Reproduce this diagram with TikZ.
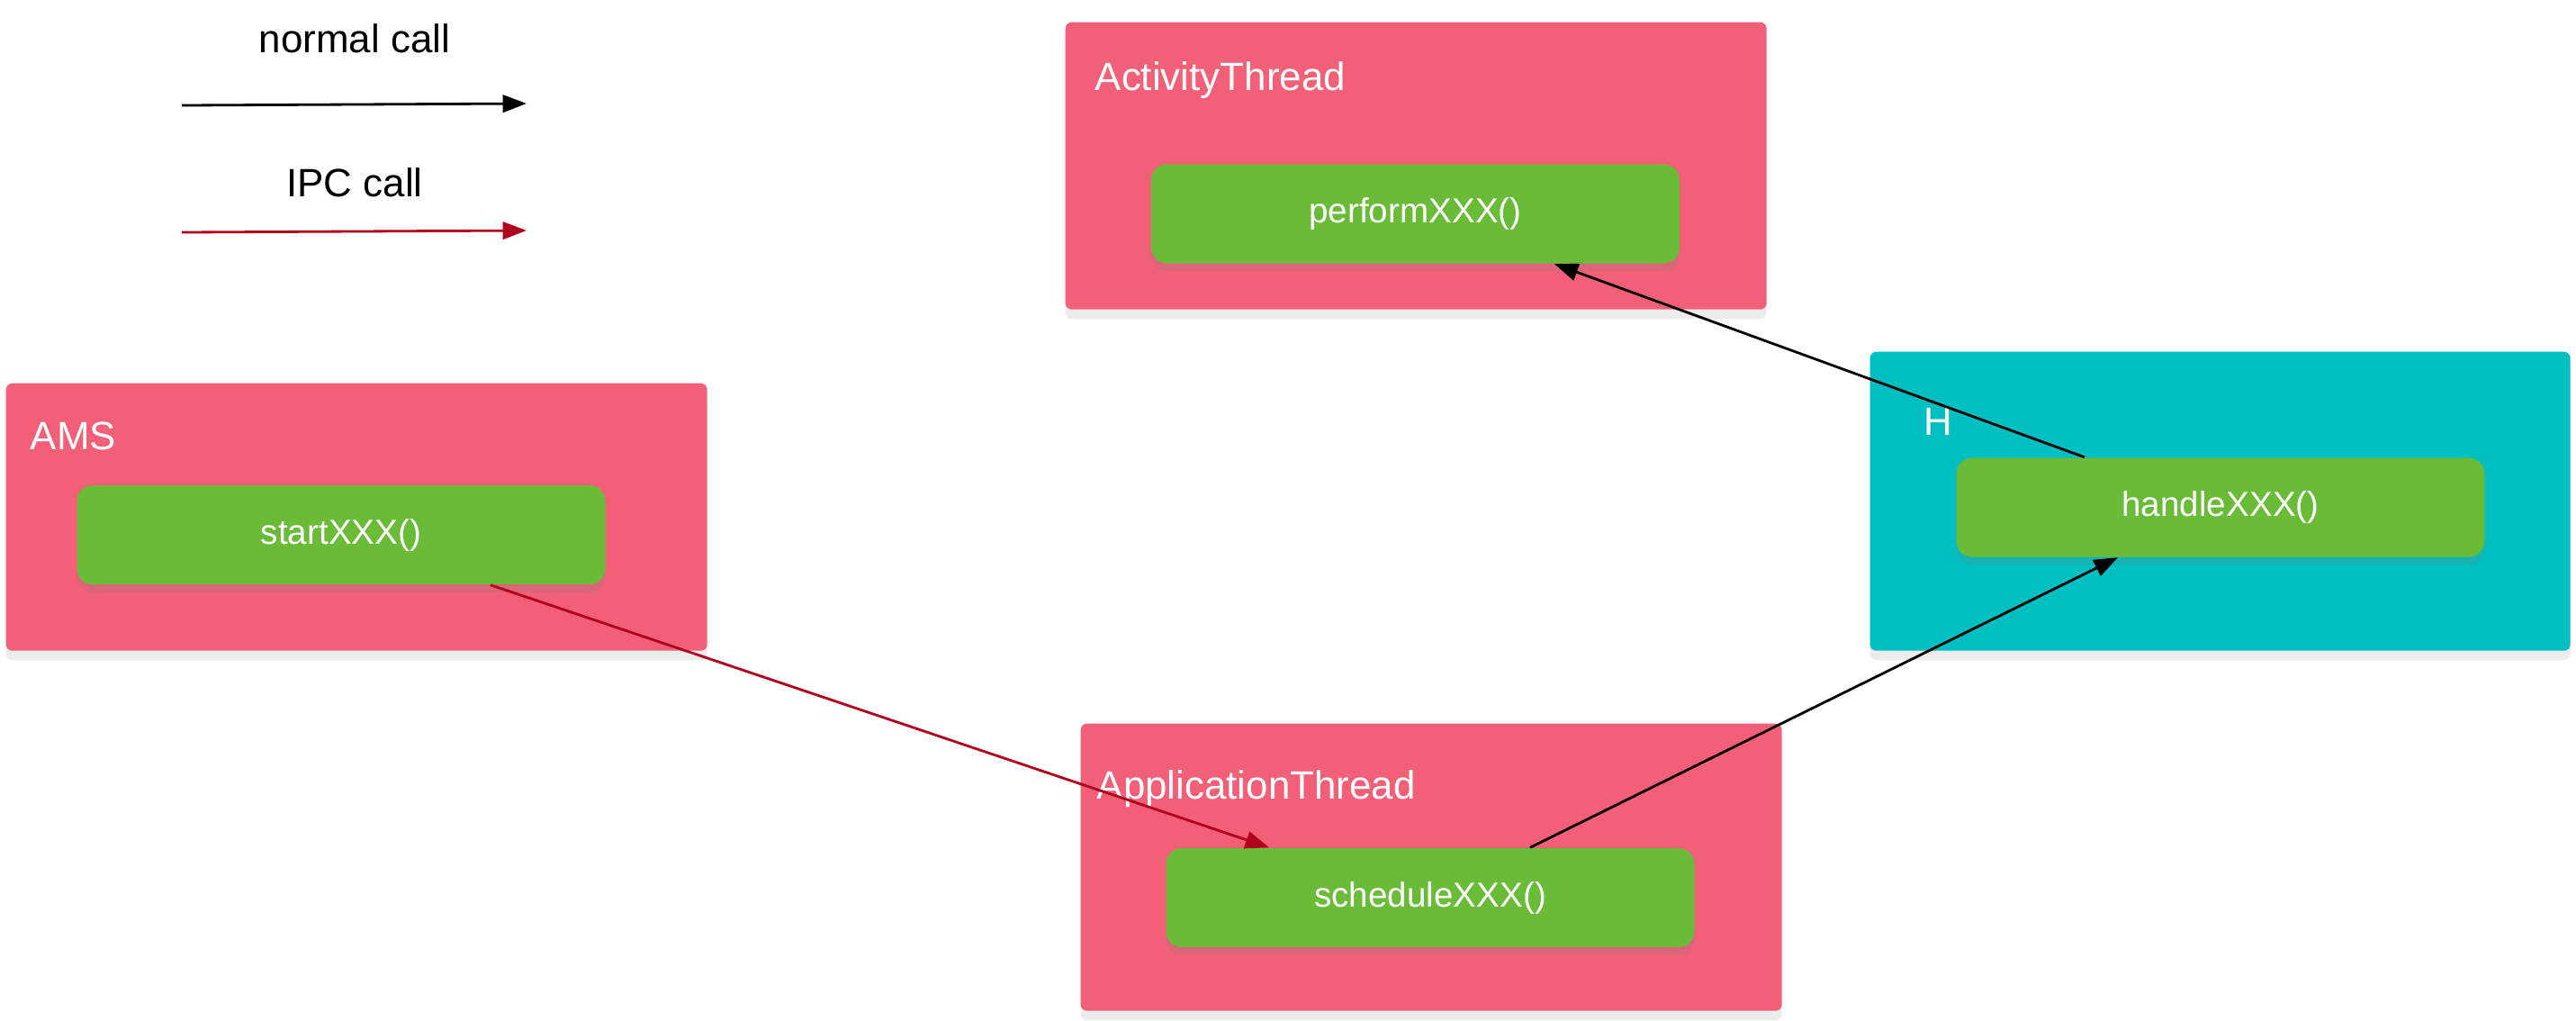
\documentclass[tikz,border=0pt]{standalone}
\usepackage{fontspec}
\setmainfont{Liberation Sans}
\usetikzlibrary{arrows.meta,positioning,calc,shadows}
\definecolor{threadpink}{RGB}{241,96,118}
\definecolor{methodgreen}{RGB}{106,188,56}
\definecolor{handlerteal}{RGB}{0,191,192}
\definecolor{ipcred}{RGB}{176,0,30}
\tikzset{
  procbox/.style={rectangle,rounded corners=2pt,anchor=north west,minimum width=7.79cm,minimum height=3.19cm,fill=threadpink,drop shadow={shadow xshift=0pt,shadow yshift=-3pt,opacity=0.15}},
  procname/.style={anchor=base west,inner sep=0pt,text=white,font=\fontsize{12.5}{15}\selectfont},
  methodnode/.style={rectangle,rounded corners=5pt,fill=methodgreen,text=white,minimum width=5.87cm,minimum height=1.1cm,font=\fontsize{11}{13}\selectfont,drop shadow={shadow xshift=0pt,shadow yshift=-2.5pt,opacity=0.2}},
  legendtext/.style={anchor=base,inner sep=0pt,font=\fontsize{12.5}{15}\selectfont},
  callarr/.style={-{Triangle[length=7.5pt,width=5.5pt]},line width=0.8pt,color=black},
  ipcarr/.style={callarr,color=ipcred}
}
\begin{document}
\begin{tikzpicture}
  \useasboundingbox (0,0) rectangle (28.62,-11.33);
  % legend
  \node[legendtext] (normallbl) at (3.94,-0.58) {normal call};
  \node[legendtext] (ipclbl) at (3.94,-2.18) {IPC call};
  \coordinate (nstart) at (2.02,-1.17);
  \coordinate (nend) at (5.85,-1.15);
  \coordinate (istart) at (2.02,-2.58);
  \coordinate (iend) at (5.85,-2.56);
  \draw[callarr] (nstart) -- (nend);
  \draw[ipcarr] (istart) -- (iend);
  % processes / threads
  \node[procbox,minimum height=2.97cm] (ams) at (0.06,-4.25) {};
  \node[procbox] (act) at (11.83,-0.24) {};
  \node[procbox] (app) at (12.00,-8.03) {};
  \node[procbox,fill=handlerteal,minimum height=3.32cm,minimum width=7.78cm] (hbox) at (20.77,-3.90) {};
  \node[procname] (amslbl) at (0.33,-4.99) {AMS};
  \node[procname] (actlbl) at (12.16,-1.00) {ActivityThread};
  \node[procname] (applbl) at (12.18,-8.87) {ApplicationThread};
  \node[procname] (hlbl) at (21.37,-4.83) {H};
  % methods
  \node[methodnode] (start) at (3.79,-5.94) {startXXX()};
  \node[methodnode] (perform) at (15.725,-2.375) {performXXX()};
  \node[methodnode] (schedule) at (15.89,-9.97) {scheduleXXX()};
  \node[methodnode] (handle) at (24.67,-5.635) {handleXXX()};
  % calls
  \draw[ipcarr] ([xshift=1.66cm]start.south) -- ([xshift=-1.79cm]schedule.north);
  \draw[callarr] ([xshift=1.11cm]schedule.north) -- ([xshift=-1.14cm]handle.south);
  \draw[callarr] ([xshift=-1.51cm]handle.north) -- ([xshift=1.545cm]perform.south);
\end{tikzpicture}
\end{document}
